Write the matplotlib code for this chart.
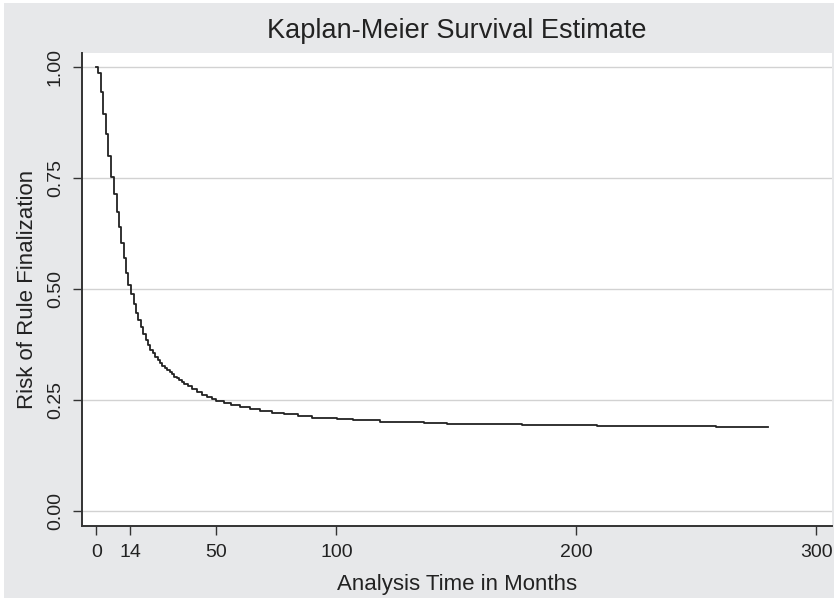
import matplotlib
matplotlib.use("Agg")
import matplotlib.pyplot as plt
from matplotlib.patches import Rectangle

# ── Data ─────────────────────────────────────────────────────────────────────
months = [0, 0.8, 1.8, 2.6, 3.9, 5.0, 6.1, 7.2, 8.4, 9.4, 10.3, 11.4, 12.4,
          13.3, 14.4, 15.5, 16.5, 17.5, 18.5, 19.5, 20.5, 21.5, 22.5, 23.5,
          24.5, 25.5, 26.5, 27.5, 28.5, 29.5, 30.5, 31.5, 32.5, 33.5, 34.5,
          35.5, 36.5, 38, 40, 42, 44, 46, 48, 50, 53, 56, 60, 64, 68, 73,
          78, 84, 90, 97, 100.2, 107, 118.2, 127.3, 136.3, 146, 163.4, 177.3,
          208.5, 232.3, 258, 279.8]
survival = [1.000, 0.986, 0.943, 0.894, 0.849, 0.800, 0.753, 0.714, 0.673,
            0.639, 0.604, 0.571, 0.536, 0.510, 0.489, 0.466, 0.447, 0.430,
            0.414, 0.399, 0.386, 0.374, 0.364, 0.356, 0.348, 0.340, 0.334,
            0.328, 0.323, 0.318, 0.313, 0.308, 0.303, 0.299, 0.295, 0.291,
            0.287, 0.281, 0.275, 0.268, 0.262, 0.257, 0.253, 0.249, 0.244,
            0.239, 0.234, 0.230, 0.226, 0.222, 0.218, 0.214, 0.211, 0.2095,
            0.207, 0.205, 0.202, 0.200, 0.198, 0.197, 0.196, 0.194, 0.193,
            0.192, 0.1905, 0.1905]

x_ticks = [0, 14, 50, 100, 200, 300]
y_ticks = [0.00, 0.25, 0.50, 0.75, 1.00]

# ── Style ─────────────────────────────────────────────────────────────────────
BG = "#e7e8ea"
INK = "#222222"
GRID = "#d2d2d2"

plt.rcParams["font.family"] = ["Liberation Sans", "DejaVu Sans"]

fig = plt.figure(figsize=(8.34, 6.0), dpi=100)
fig.patch.set_facecolor("white")
fig.add_artist(Rectangle((4 / 834, 2 / 600), 830 / 834, 595 / 600,
                         transform=fig.transFigure, facecolor=BG,
                         edgecolor="none", zorder=-10))

ax = fig.add_axes([82 / 834, 1 - 525.5 / 600, 750 / 834, 472.8 / 600])
ax.set_facecolor("white")

ax.step(months, survival, where="post", color=INK, linewidth=1.3, zorder=3)

ax.set_xlim(-6, 306.5)
ax.set_ylim(-0.032, 1.032)

ax.set_xticks(x_ticks)
ax.set_yticks(y_ticks)
ax.set_yticklabels([f"{v:.2f}" for v in y_ticks], rotation=90, va="center")

ax.yaxis.grid(True, color=GRID, linewidth=1.0)
ax.set_axisbelow(True)

for side in ["top", "right"]:
    ax.spines[side].set_visible(False)
for side in ["left", "bottom"]:
    ax.spines[side].set_color("#333333")
    ax.spines[side].set_linewidth(1.4)

ax.tick_params(axis="both", direction="out", length=6.5, width=1.0,
               color="#333333", labelcolor=INK, labelsize=14)
ax.tick_params(axis="x", pad=7)
ax.tick_params(axis="y", pad=6.5)

# ── Titles ────────────────────────────────────────────────────────────────────
fig.text(457 / 834, 1 - 38.3 / 600, "Kaplan-Meier Survival Estimate",
         ha="center", va="baseline", fontsize=19.5, color=INK)
fig.text(457 / 834, 1 - 590 / 600, "Analysis Time in Months",
         ha="center", va="baseline", fontsize=16, color=INK)
fig.text(32.7 / 834, 1 - 289.5 / 600, "Risk of Rule Finalization",
         ha="center", va="baseline", rotation=90, rotation_mode="anchor",
         fontsize=16, color=INK)

plt.savefig("out.png", dpi=100, facecolor="white")
